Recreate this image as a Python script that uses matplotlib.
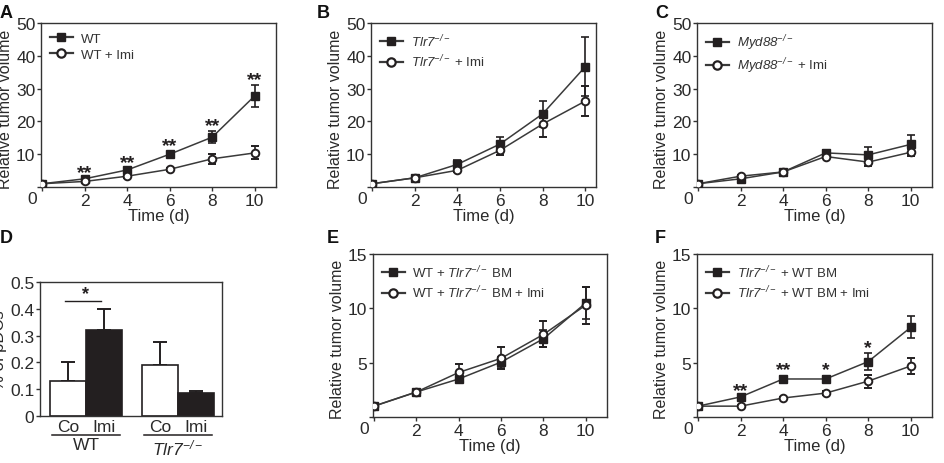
import numpy as np
import matplotlib.pyplot as plt
from matplotlib.lines import Line2D

plt.rcParams['font.family'] = ['Liberation Sans', 'DejaVu Sans']
plt.rcParams['mathtext.fontset'] = 'custom'
plt.rcParams['mathtext.rm'] = 'Liberation Sans:italic'
plt.rcParams['mathtext.it'] = 'Liberation Sans:italic'

t = [0, 2, 4, 6, 8, 10]

# A
a_wt = [1.0, 2.5, 5.2, 10.0, 15.2, 27.8]
a_wt_err = [0.2, 0.3, 0.5, 0.8, 1.8, 3.3]
a_imi = [1.0, 1.7, 3.3, 5.4, 8.6, 10.4]
a_imi_err = [0.2, 0.3, 0.4, 0.5, 1.5, 2.0]
a_stars = ['', '**', '**', '**', '**', '**']

# B
b_ko = [1.0, 2.8, 6.9, 13.1, 22.3, 36.7]
b_ko_err = [0.2, 0.3, 1.3, 2.3, 4.0, 9.0]
b_imi = [1.0, 2.8, 5.1, 11.2, 19.2, 26.2]
b_imi_err = [0.2, 0.3, 0.5, 1.3, 4.0, 4.5]

# C
c_ko = [1.0, 2.5, 4.6, 10.4, 9.8, 13.0]
c_ko_err = [0.2, 0.3, 0.4, 1.0, 2.3, 3.0]
c_imi = [1.0, 3.3, 4.6, 9.3, 7.6, 10.6]
c_imi_err = [0.2, 0.3, 0.4, 0.6, 1.2, 1.0]

# D
d_labels = ['Co', 'Imi', 'Co', 'Imi']
d_vals = [0.13, 0.32, 0.19, 0.085]
d_err = [0.07, 0.08, 0.085, 0.008]
d_groups = ['WT', r'$Tlr7^{-/-}$']

# E
e_ko = [1.0, 2.3, 3.5, 5.05, 7.2, 10.5]
e_ko_err = [0.05, 0.2, 0.4, 0.5, 0.8, 1.5]
e_imi = [1.0, 2.3, 4.1, 5.4, 7.6, 10.3]
e_imi_err = [0.05, 0.2, 0.8, 1.0, 1.2, 1.7]

# F
f_ko = [1.0, 1.85, 3.5, 3.5, 5.1, 8.25]
f_ko_err = [0.05, 0.1, 0.3, 0.3, 0.8, 1.0]
f_imi = [1.0, 1.0, 1.75, 2.2, 3.3, 4.7]
f_imi_err = [0.05, 0.1, 0.1, 0.15, 0.6, 0.7]
f_stars = ['', '**', '**', '*', '*', '']

dark = '#231f20'
line = '#3a3a3a'
txtc = '#2a2a2a'

fig = plt.figure(figsize=(9.44, 4.64), dpi=100)


def style_axes(ax):
    for s in ax.spines.values():
        s.set_linewidth(1.0)
        s.set_color('#333333')
    ax.tick_params(direction='out', length=3, width=1, labelsize=12.5, pad=1,
                   colors='#333333', labelcolor=txtc)


def line_panel(rect, ko, ko_err, imi, imi_err, labels, ymax, yticks, xmax=11.0, stars=None):
    ax = fig.add_axes(rect)
    ax.errorbar(t, ko, yerr=ko_err, color=line, lw=1.1, marker='s', ms=5.5,
                mfc=dark, mec=dark, ecolor=dark, elinewidth=1.2, capsize=3, capthick=1.2,
                zorder=3)
    ax.errorbar(t, imi, yerr=imi_err, color=line, lw=1.1, marker='o', ms=5.5,
                mfc='white', mec=dark, mew=1.4, ecolor=dark, elinewidth=1.2, capsize=3,
                capthick=1.2, zorder=3)
    ax.set_xlim(-0.05, xmax)
    ax.set_ylim(0, ymax)
    ax.set_xticks(t)
    ax.set_xticklabels([''] + [str(v) for v in t[1:]])
    ax.set_yticks(yticks)
    ax.set_yticklabels([''] + [str(v) for v in yticks[1:]])
    ax.annotate('0', xy=(0, 0), xycoords='axes fraction', xytext=(-6, -3),
                textcoords='offset points', ha='center', va='top', fontsize=12.5, color=txtc)
    ax.set_xlabel('Time (d)', fontsize=12, labelpad=0, color=txtc)
    ax.set_ylabel('Relative tumor volume', fontsize=11.5, labelpad=2, color=txtc)
    ax.yaxis.set_label_coords(-28 / (rect[2] * 944), 0.48)
    style_axes(ax)
    handles = [Line2D([], [], color=line, lw=1.6, marker='s', ms=6, mfc=dark, mec=dark),
               Line2D([], [], color=line, lw=1.6, marker='o', ms=6, mfc='white', mec=dark,
                      mew=1.6)]
    leg = ax.legend(handles, labels, loc='upper left', frameon=False, fontsize=9.5,
                    handlelength=1.7, handletextpad=0.6, borderaxespad=0.3,
                    labelspacing=0.3)
    for txt in leg.get_texts():
        txt.set_color('#333333')
    if stars is not None:
        for x, y, e, s in zip(t, ko, ko_err, stars):
            if s:
                ax.annotate(s, xy=(x, y + e), xytext=(0, -2), textcoords='offset points',
                            ha='center', va='bottom', fontsize=14, fontweight='bold',
                            color=dark)
    return ax


# A
line_panel([0.0434, 0.5948, 0.249, 0.3534], a_wt, a_wt_err, a_imi, a_imi_err,
           ['WT', 'WT + Imi'], 50, [0, 10, 20, 30, 40, 50], stars=a_stars)
# B
line_panel([0.393, 0.5948, 0.2383, 0.3534], b_ko, b_ko_err, b_imi, b_imi_err,
           [r'$Tlr7^{-/-}$', r'$Tlr7^{-/-}$ + Imi'], 50,
           [0, 10, 20, 30, 40, 50], xmax=10.5)
# C
line_panel([0.7383, 0.5948, 0.249, 0.3534], c_ko, c_ko_err, c_imi, c_imi_err,
           [r'$Myd88^{-/-}$', r'$Myd88^{-/-}$ + Imi'], 50,
           [0, 10, 20, 30, 40, 50])
# E
line_panel([0.395, 0.0991, 0.248, 0.3513], e_ko, e_ko_err, e_imi, e_imi_err,
           [r'WT + $Tlr7^{-/-}$ BM', r'WT + $Tlr7^{-/-}$ BM + Imi'], 15,
           [0, 5, 10, 15])
# F
line_panel([0.7383, 0.0991, 0.249, 0.3513], f_ko, f_ko_err, f_imi, f_imi_err,
           [r'$Tlr7^{-/-}$ + WT BM', r'$Tlr7^{-/-}$ + WT BM + Imi'], 15,
           [0, 5, 10, 15], stars=f_stars)

# D
ax = fig.add_axes([0.0424, 0.1013, 0.1928, 0.2888])
xpos = np.array([0, 1, 2.55, 3.55])
colors = ['white', dark, 'white', dark]
ax.bar(xpos, d_vals, width=1.0, color=colors, edgecolor=dark, linewidth=1.2, zorder=2)
ax.errorbar(xpos, d_vals, yerr=[np.zeros(4), d_err], fmt='none', ecolor=dark,
            elinewidth=1.4, capsize=5, capthick=1.4, zorder=1)
ax.set_xlim(-0.78, 4.27)
ax.set_ylim(0, 0.5)
ax.set_yticks([0, 0.1, 0.2, 0.3, 0.4, 0.5])
ax.set_yticklabels(['0', '0.1', '0.2', '0.3', '0.4', '0.5'])
ax.set_xticks(xpos)
ax.set_xticklabels(d_labels)
style_axes(ax)
ax.tick_params(axis='x', length=0, pad=2)
ax.set_ylabel('% of pDCs', fontsize=12, labelpad=2, color=txtc)
# significance bracket
ax.plot([xpos[0] - 0.08, xpos[1] - 0.1], [0.43, 0.43], color=dark, lw=1.0, clip_on=False)
ax.text((xpos[0] + xpos[1]) / 2 - 0.02, 0.425, '*', ha='center', va='bottom',
        fontsize=13, fontweight='bold', color=dark)
# group lines under the axis
for i, g in enumerate(d_groups):
    x0 = xpos[2 * i] - 0.45
    x1 = xpos[2 * i + 1] + 0.45
    ax.plot([x0, x1], [-0.14, -0.14], color=dark, lw=1.1, clip_on=False,
            transform=ax.get_xaxis_transform())
    ax.text((x0 + x1) / 2, -0.16, g, ha='center', va='top', fontsize=12.5,
            color=txtc, transform=ax.get_xaxis_transform())

# panel letters
for x, y, s in [(0.0, 0.99, 'A'), (0.336, 0.99, 'B'), (0.694, 0.99, 'C'),
                (0.0, 0.505, 'D'), (0.346, 0.505, 'E'), (0.694, 0.505, 'F')]:
    fig.text(x, y, s, fontsize=13, fontweight='bold', ha='left', va='top', color='#111111')

fig.savefig('out.png', dpi=100)
